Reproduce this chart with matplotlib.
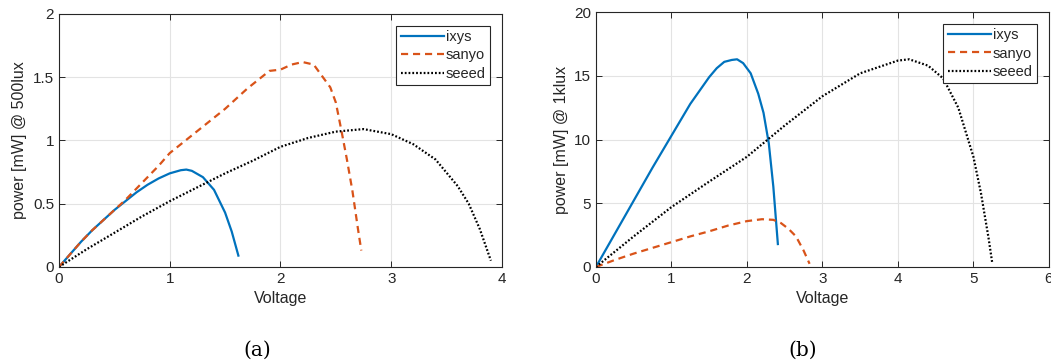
import matplotlib
matplotlib.use("Agg")
import matplotlib.pyplot as plt
from matplotlib.ticker import FormatStrFormatter

# ---- data: panel (a), 500 lux ----
a_ixys_v = [0, 0.1, 0.2, 0.3, 0.4, 0.5, 0.6, 0.7, 0.8, 0.9, 1.0, 1.1, 1.15, 1.2, 1.3, 1.4, 1.5, 1.56, 1.62]
a_ixys_p = [0, 0.1, 0.2, 0.29, 0.37, 0.45, 0.52, 0.59, 0.65, 0.70, 0.74, 0.765, 0.77, 0.76, 0.71, 0.61, 0.43, 0.28, 0.09]

a_sanyo_v = [0, 0.1, 0.2, 0.3, 0.4, 0.5, 0.6, 0.7, 0.8, 0.9, 1.0, 1.1, 1.2, 1.3, 1.4, 1.5, 1.6, 1.7,
             1.8, 1.9, 2.0, 2.1, 2.2, 2.3, 2.4, 2.45, 2.5, 2.55, 2.6, 2.65, 2.7, 2.73]
a_sanyo_p = [0, 0.1, 0.2, 0.29, 0.37, 0.45, 0.53, 0.62, 0.71, 0.8, 0.9, 0.97, 1.04, 1.11, 1.18, 1.25, 1.33, 1.41,
             1.48, 1.55, 1.56, 1.6, 1.62, 1.6, 1.48, 1.42, 1.3, 1.08, 0.85, 0.6, 0.3, 0.13]

a_seeed_v = [0, 0.25, 0.5, 0.75, 1.0, 1.25, 1.5, 1.75, 2.0, 2.25, 2.5, 2.75, 3.0, 3.2, 3.4, 3.6, 3.7, 3.8, 3.9]
a_seeed_p = [0, 0.14, 0.27, 0.4, 0.52, 0.63, 0.74, 0.84, 0.95, 1.02, 1.07, 1.09, 1.05, 0.97, 0.85, 0.64, 0.5, 0.3, 0.05]

# ---- data: panel (b), 1 klux ----
b_ixys_v = [0, 0.25, 0.5, 0.75, 1.0, 1.25, 1.5, 1.6, 1.7, 1.8, 1.87, 1.95, 2.05, 2.15, 2.22, 2.29, 2.35, 2.41]
b_ixys_p = [0, 2.6, 5.2, 7.8, 10.3, 12.8, 14.9, 15.6, 16.1, 16.25, 16.3, 16.0, 15.2, 13.6, 12.1, 9.7, 6.3, 1.8]

b_sanyo_v = [0, 0.25, 0.5, 0.75, 1.0, 1.25, 1.5, 1.75, 2.0, 2.2, 2.35, 2.45, 2.55, 2.65, 2.75, 2.83]
b_sanyo_p = [0, 0.55, 1.05, 1.5, 1.95, 2.4, 2.8, 3.25, 3.6, 3.75, 3.7, 3.45, 3.0, 2.4, 1.3, 0.25]

b_seeed_v = [0, 0.5, 1, 1.5, 2, 2.5, 3, 3.5, 4, 4.15, 4.4, 4.6, 4.8, 5.0, 5.1, 5.2, 5.25]
b_seeed_p = [0, 2.4, 4.7, 6.7, 8.65, 11.1, 13.4, 15.2, 16.2, 16.3, 15.8, 14.8, 12.5, 8.65, 5.8, 2.3, 0.3]

labels = ["ixys", "sanyo", "seeed"]
colors = ["#0072BD", "#D95319", "#000000"]
styles = ["-", (0, (3.2, 2.2)), (0, (0.8, 0.9))]

plt.rcParams['font.family'] = ['Liberation Sans', 'DejaVu Sans']
plt.rcParams['font.size'] = 10

fig = plt.figure(figsize=(10.51, 3.63), dpi=100)
axc = '#262626'

def style_axes(ax, xlim, ylim, xticks, yticks, ylabel):
    ax.set_xlim(*xlim)
    ax.set_ylim(*ylim)
    ax.set_xticks(xticks)
    ax.set_yticks(yticks)
    ax.xaxis.set_major_formatter(FormatStrFormatter('%g'))
    ax.yaxis.set_major_formatter(FormatStrFormatter('%g'))
    ax.grid(True, color='#e3e3e3', linewidth=0.8)
    ax.set_axisbelow(True)
    ax.tick_params(direction='in', top=True, right=True, length=4, colors=axc, labelsize=11, width=0.7)
    for s in ax.spines.values():
        s.set_color(axc)
        s.set_linewidth(0.8)
    ax.set_xlabel("Voltage", fontsize=11.5, color=axc, labelpad=4)
    ax.set_ylabel(ylabel, fontsize=11.5, color=axc, labelpad=4)
    leg = ax.legend(loc='upper right', fancybox=False, edgecolor=axc, framealpha=1,
                    fontsize=10.5, handlelength=3.0, handletextpad=0.1, borderpad=0.3,
                    labelspacing=0.3, borderaxespad=0.8)
    leg.get_frame().set_linewidth(0.8)
    for t in leg.get_texts():
        t.set_color(axc)

ax1 = fig.add_axes([0.0561, 0.2645, 0.4215, 0.697])
for v, p, lab, c, ls in zip([a_ixys_v, a_sanyo_v, a_seeed_v], [a_ixys_p, a_sanyo_p, a_seeed_p], labels, colors, styles):
    ax1.plot(v, p, linestyle=ls, color=c, label=lab, linewidth=1.6)
style_axes(ax1, (0, 4), (0, 2), [0, 1, 2, 3, 4], [0, 0.5, 1, 1.5, 2], "power [mW] @ 500lux")

ax2 = fig.add_axes([0.567, 0.2645, 0.431, 0.702])
for v, p, lab, c, ls in zip([b_ixys_v, b_sanyo_v, b_seeed_v], [b_ixys_p, b_sanyo_p, b_seeed_p], labels, colors, styles):
    ax2.plot(v, p, linestyle=ls, color=c, label=lab, linewidth=1.6)
style_axes(ax2, (0, 6), (0, 20), [0, 1, 2, 3, 4, 5, 6], [0, 5, 10, 15, 20], "power [mW] @ 1klux")

fig.text(0.2445, 0.036, "(a)", ha='center', va='center', fontsize=14.5, family=['DejaVu Serif'])
fig.text(0.764, 0.036, "(b)", ha='center', va='center', fontsize=14.5, family=['DejaVu Serif'])

fig.savefig("out.png", dpi=100)
